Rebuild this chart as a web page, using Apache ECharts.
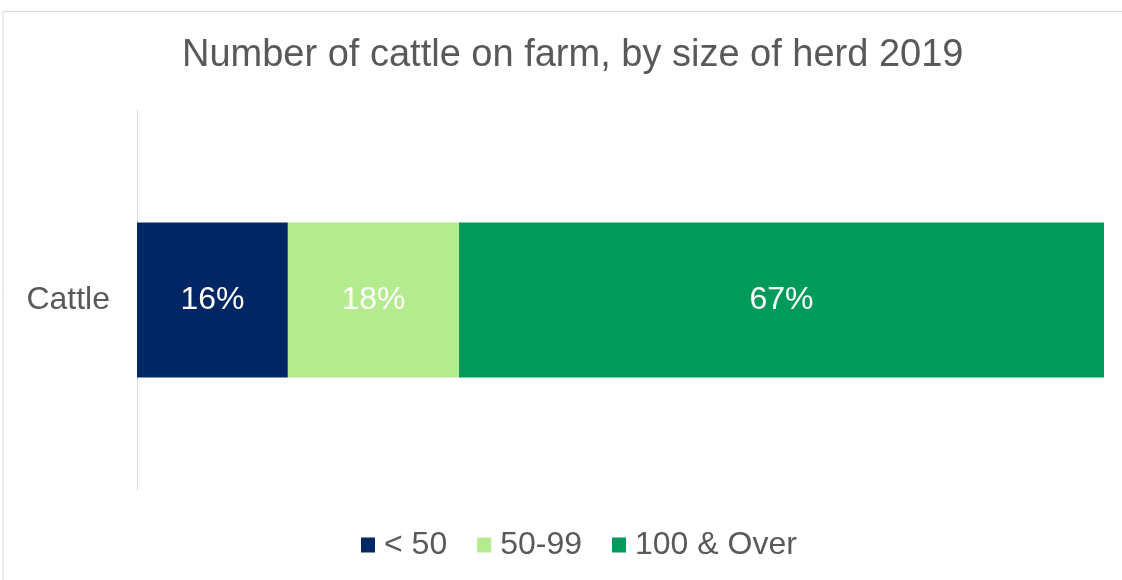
<!DOCTYPE html>
<html>
<head>
<meta charset="utf-8">
<script src="https://cdn.jsdelivr.net/npm/echarts@6/dist/echarts.min.js"></script>
<style>
  html, body { margin: 0; padding: 0; background: #fff; }
  #chart { width: 1122px; height: 580px; }
</style>
</head>
<body>
<div id="chart"></div>
<script>
  const categories = ['Cattle']
  const seriesNames = ['< 50', '50-99', '100 & Over']
  const lessThan50 = [15.6]
  const from50to99 = [17.7]
  const over100 = [66.7]
  const colors = ['#002663', '#b5eb8f', '#009b5a']

  const chart = echarts.init(document.getElementById('chart'))
  const font = 'Liberation Sans, Arial, sans-serif'

  const makeSeries = (name, data, color, labelColor) => ({
    name: name,
    type: 'bar',
    stack: 'total',
    barWidth: 155,
    data: data,
    itemStyle: { color: color },
    label: {
      show: true,
      position: 'inside',
      color: labelColor,
      fontFamily: font,
      fontSize: 32,
      formatter: (p) => Math.round(p.value) + '%',
    },
  })

  const option = {
    animation: false,
    graphic: [
      {
        type: 'polyline',
        shape: { points: [[3, 580], [3, 11.5], [1122, 11.5]] },
        style: { stroke: '#d9d9d9', lineWidth: 1, fill: null },
      },
    ],
    title: {
      text: 'Number of cattle on farm, by size of herd 2019',
      left: 177,
      top: 32,
      textStyle: { color: '#595959', fontFamily: font, fontSize: 38, fontWeight: 'normal' },
    },
    legend: {
      bottom: 14,
      left: 356,
      itemWidth: 14,
      itemHeight: 15,
      itemGap: 30,
      icon: 'rect',
      textStyle: { color: '#595959', fontFamily: font, fontSize: 32, padding: [0, 0, 0, 4] },
      data: seriesNames,
    },
    grid: { left: 137, right: 18, top: 110, bottom: 90 },
    xAxis: {
      type: 'value',
      min: 0,
      max: 100,
      show: false,
    },
    yAxis: {
      type: 'category',
      data: categories,
      axisLine: { show: true, lineStyle: { color: '#d9d9d9' } },
      axisTick: { show: false },
      axisLabel: { color: '#595959', fontFamily: font, fontSize: 32, margin: 27 },
    },
    series: [
      makeSeries(seriesNames[0], lessThan50, colors[0], '#ffffff'),
      makeSeries(seriesNames[1], from50to99, colors[1], '#ffffff'),
      makeSeries(seriesNames[2], over100, colors[2], '#ffffff'),
    ],
  }

  chart.setOption(option)
</script>
</body>
</html>
